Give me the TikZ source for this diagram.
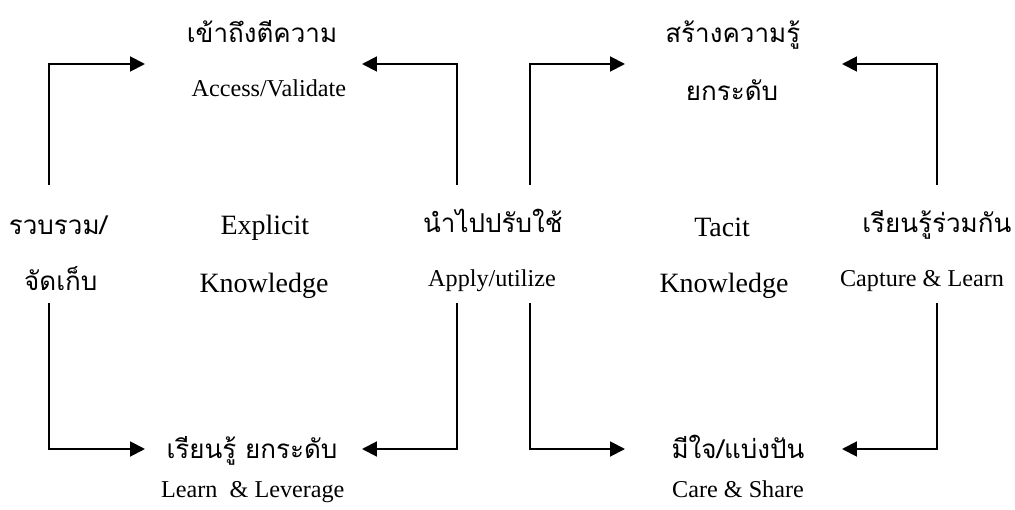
\documentclass[tikz,border=0pt]{standalone}
\usepackage{fontspec}
\setmainfont{Liberation Serif}
\newfontfamily\thaifont[Script=Thai]{Loma}
\usetikzlibrary{arrows.meta}

\begin{document}
\begin{tikzpicture}[thick,
    thai node/.style={anchor=base,inner sep=0pt,font=\thaifont\fontsize{18.5}{22}\selectfont},
    big node/.style={anchor=base,inner sep=0pt,font=\fontsize{19.9}{23}\selectfont},
    small node/.style={anchor=base,inner sep=0pt,font=\fontsize{17.2}{20}\selectfont},
    flow/.style={line width=1.4pt,-{Triangle[length=10.5pt,width=10.5pt]}}
  ]
  \useasboundingbox (0,0) rectangle (25.375,12.725);

  % explicit knowledge
  \node[thai node]  (access)    at (6.55,11.65)  {เข้าถึงตีความ};
  \node[small node] (access en) at (6.72,10.30)  {Access/Validate};
  \node[thai node]  (collect)   at (1.45,6.85)   {รวบรวม/};
  \node[thai node]  (store)     at (1.52,5.45)   {จัดเก็บ};
  \node[big node]   (explicit)  at (6.62,6.85)   {Explicit};
  \node[big node]   (know1)     at (6.60,5.40)   {Knowledge};
  \node[thai node]  (learn)     at (6.30,1.27)   {เรียนรู้ ยกระดับ};
  \node[small node] (learn en)  at (6.32,0.30)   {Learn~~\& Leverage};

  % middle
  \node[thai node]  (apply)     at (12.32,6.90)  {นำไปปรับใช้};
  \node[small node] (apply en)  at (12.30,5.55)  {Apply/utilize};

  % tacit knowledge
  \node[thai node]  (create)    at (18.32,11.65) {สร้างความรู้};
  \node[thai node]  (raise)     at (18.30,10.22) {ยกระดับ};
  \node[big node]   (tacit)     at (18.05,6.80)  {Tacit};
  \node[big node]   (know2)     at (18.10,5.40)  {Knowledge};
  \node[thai node]  (share)     at (18.45,1.27)  {มีใจ/แบ่งปัน};
  \node[small node] (share en)  at (18.45,0.30)  {Care \& Share};
  \node[thai node]  (together)  at (23.42,6.90)  {เรียนรู้ร่วมกัน};
  \node[small node] (together en) at (23.05,5.55) {Capture \& Learn};

  % arrow ends
  \coordinate (collect up)   at (1.225,8.10);
  \coordinate (collect down) at (1.225,5.15);
  \coordinate (apply up l)   at (11.425,8.10);
  \coordinate (apply down l) at (11.425,5.15);
  \coordinate (apply up r)   at (13.25,8.10);
  \coordinate (apply down r) at (13.25,5.15);
  \coordinate (together up)  at (23.425,8.10);
  \coordinate (together down) at (23.425,5.15);
  \coordinate (access in l)  at (3.625,11.125);
  \coordinate (access in r)  at (9.05,11.125);
  \coordinate (learn in l)   at (3.625,1.50);
  \coordinate (learn in r)   at (9.05,1.50);
  \coordinate (create in l)  at (15.625,11.125);
  \coordinate (create in r)  at (21.05,11.125);
  \coordinate (share in l)   at (15.625,1.50);
  \coordinate (share in r)   at (21.05,1.50);

  \draw[flow] (collect up) |- (access in l);
  \draw[flow] (apply up l) |- (access in r);
  \draw[flow] (collect down) |- (learn in l);
  \draw[flow] (apply down l) |- (learn in r);
  \draw[flow] (apply up r) |- (create in l);
  \draw[flow] (together up) |- (create in r);
  \draw[flow] (apply down r) |- (share in l);
  \draw[flow] (together down) |- (share in r);
\end{tikzpicture}
\end{document}
